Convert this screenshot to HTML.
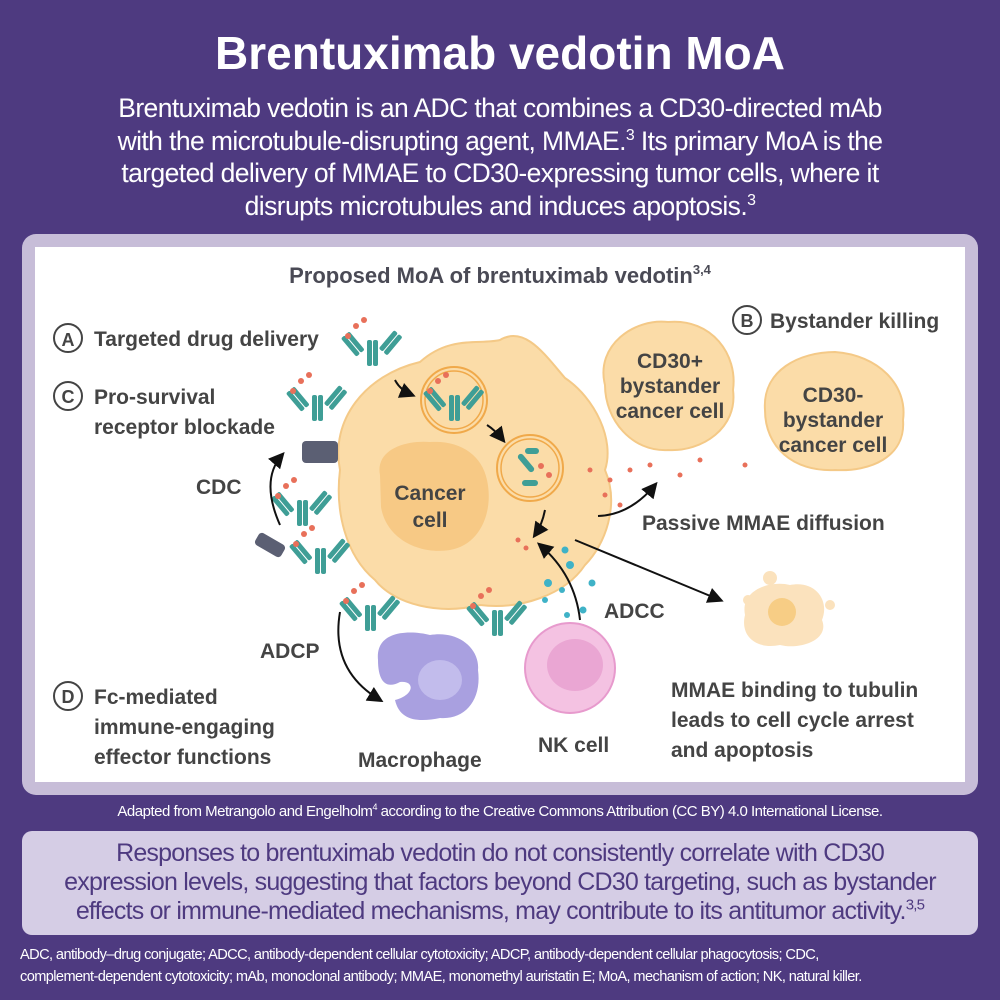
<!DOCTYPE html>
<html><head><meta charset="utf-8"><style>
*{margin:0;padding:0;box-sizing:border-box}
body{width:1000px;height:1000px;background:#4e3a80;font-family:"Liberation Sans",sans-serif;position:relative;overflow:hidden;color:#fff}
.t{position:absolute;left:0;width:1000px;text-align:center}
h1{font-weight:bold;font-size:46px}
.intro{top:92px;font-size:26.5px;line-height:32.5px;letter-spacing:-0.6px}
.panel{position:absolute;left:22px;top:234px;width:956px;height:561px;background:#c7bdd8;border-radius:14px}
.inner{position:absolute;left:13px;top:13px;width:930px;height:535px;background:#fff}
.credit{top:803px;font-size:15px;letter-spacing:-0.5px}
.box{position:absolute;left:22px;top:831px;width:956px;height:104px;background:#d5cde5;border-radius:10px;color:#4e3a80;font-size:25px;line-height:29px;text-align:center;padding-top:8px;letter-spacing:-0.8px}
.foot{position:absolute;left:20px;top:944px;font-size:14.6px;line-height:22px;letter-spacing:-0.6px}
sup{font-size:60%;line-height:0}
</style></head><body>
<div class="t" style="top:26px"><h1>Brentuximab vedotin MoA</h1></div>
<div class="t intro">Brentuximab vedotin is an ADC that combines a CD30-directed mAb<br>with the microtubule-disrupting agent, MMAE.<sup>3</sup> Its primary MoA is the<br>targeted delivery of MMAE to CD30-expressing tumor cells, where it<br>disrupts microtubules and induces apoptosis.<sup>3</sup></div>
<div class="panel"><div class="inner"></div></div>
<svg style="position:absolute;left:0;top:0" width="1000" height="1000" font-family="Liberation Sans, sans-serif" fill="#464650">
<defs>
<g id="ab">
<rect x="-3" y="0" width="5" height="26" rx="2" fill="#3f9e96"/><rect x="3" y="0" width="5" height="26" rx="2" fill="#3f9e96"/>
<rect x="-22" y="-18" width="5" height="24" rx="2" fill="#3f9e96" transform="rotate(-40 -3 0)"/><rect x="-16" y="-18" width="5" height="24" rx="2" fill="#3f9e96" transform="rotate(-40 -3 0)"/>
<rect x="14" y="-18" width="5" height="24" rx="2" fill="#3f9e96" transform="rotate(40 8 0)"/><rect x="20" y="-18" width="5" height="24" rx="2" fill="#3f9e96" transform="rotate(40 8 0)"/>
<circle cx="-14" cy="-14" r="3" fill="#e8705a"/><circle cx="-6" cy="-20" r="3" fill="#e8705a"/><circle cx="-22" cy="-4" r="3" fill="#e8705a"/>
</g>
<marker id="ar" markerWidth="8" markerHeight="8" refX="6" refY="4" orient="auto"><path d="M0,0L8,4L0,8z" fill="#111"/></marker>
</defs>
<text x="500" y="283" text-anchor="middle" font-size="22" font-weight="bold" fill="#4a4a55">Proposed MoA of brentuximab vedotin<tspan font-size="13" dy="-9">3,4</tspan></text>
<path d="M340,470 C330,420 365,375 420,362 C450,335 480,345 500,340 C525,325 545,355 565,378 C595,398 615,440 605,470 C620,505 605,545 585,565 C565,595 520,610 480,605 C440,615 395,605 375,580 C345,555 335,510 340,470Z" fill="#fbdca8" stroke="#f4c987" stroke-width="2"/>
<path d="M380,475 C375,450 405,440 430,442 C460,440 482,455 487,480 C494,512 480,545 450,550 C418,555 386,538 381,507Z" fill="#f7c985"/>
<text x="430" y="500" text-anchor="middle" font-size="21" font-weight="bold" fill="#444">Cancer</text>
<text x="430" y="527" text-anchor="middle" font-size="21" font-weight="bold" fill="#444">cell</text>
<circle cx="454" cy="400" r="33" fill="none" stroke="#f0a94a" stroke-width="2"/><circle cx="454" cy="400" r="29" fill="none" stroke="#f0a94a" stroke-width="1.5"/>
<use href="#ab" x="452" y="395"/>
<circle cx="530" cy="468" r="33" fill="none" stroke="#f0a94a" stroke-width="2"/><circle cx="530" cy="468" r="29" fill="none" stroke="#f0a94a" stroke-width="1.5"/>
<rect x="515" y="460" width="22" height="6" rx="3" fill="#3f9e96" transform="rotate(50 526 463)"/><rect x="525" y="448" width="14" height="6" rx="3" fill="#3f9e96"/><rect x="522" y="480" width="16" height="6" rx="3" fill="#3f9e96"/>
<circle cx="541" cy="466" r="3" fill="#e8705a"/><circle cx="549" cy="475" r="3" fill="#e8705a"/>
<use href="#ab" x="370" y="340"/><use href="#ab" x="315" y="395"/><use href="#ab" x="300" y="500"/><use href="#ab" x="318" y="548"/><use href="#ab" x="368" y="605"/><use href="#ab" x="495" y="610"/>
<rect x="302" y="441" width="36" height="22" rx="4" fill="#5b5f73"/>
<rect x="255" y="538" width="30" height="14" rx="4" fill="#5b5f73" transform="rotate(30 270 545)"/>
<path d="M395,380 Q400,390 412,395" fill="none" stroke="#111" stroke-width="2" marker-end="url(#ar)"/>
<path d="M487,425 Q495,430 503,440" fill="none" stroke="#111" stroke-width="2" marker-end="url(#ar)"/>
<path d="M545,510 Q542,525 535,535" fill="none" stroke="#111" stroke-width="2" marker-end="url(#ar)"/>
<path d="M280,525 Q260,480 282,455" fill="none" stroke="#111" stroke-width="2" marker-end="url(#ar)"/>
<path d="M340,612 Q330,670 380,700" fill="none" stroke="#111" stroke-width="2" marker-end="url(#ar)"/>
<path d="M580,620 Q575,575 540,545" fill="none" stroke="#111" stroke-width="2" marker-end="url(#ar)"/>
<path d="M575,540 L720,600" fill="none" stroke="#111" stroke-width="2" marker-end="url(#ar)"/>
<path d="M598,516 Q630,515 655,485" fill="none" stroke="#111" stroke-width="2" marker-end="url(#ar)"/>
<g fill="#e8705a"><circle cx="590" cy="470" r="2.5"/><circle cx="610" cy="480" r="2.5"/><circle cx="605" cy="495" r="2.5"/><circle cx="630" cy="470" r="2.5"/><circle cx="650" cy="465" r="2.5"/><circle cx="680" cy="475" r="2.5"/><circle cx="700" cy="460" r="2.5"/><circle cx="745" cy="465" r="2.5"/><circle cx="620" cy="505" r="2.5"/><circle cx="518" cy="540" r="2.5"/><circle cx="526" cy="548" r="2.5"/></g>
<g fill="#3fb2c7"><circle cx="565" cy="550" r="3.5"/><circle cx="570" cy="565" r="4"/><circle cx="548" cy="583" r="4"/><circle cx="562" cy="590" r="3"/><circle cx="545" cy="600" r="3"/><circle cx="592" cy="583" r="3.5"/><circle cx="583" cy="610" r="3.5"/><circle cx="567" cy="615" r="3"/></g>
<path d="M605,385 C595,345 635,318 668,322 C712,318 738,355 733,390 C738,428 702,452 668,450 C632,452 605,420 605,385Z" fill="#fbdca8" stroke="#f4c987" stroke-width="2"/>
<g font-weight="bold" font-size="21" fill="#444" text-anchor="middle">
<text x="670" y="368">CD30+</text><text x="670" y="393">bystander</text><text x="670" y="418">cancer cell</text>
</g>
<path d="M765,410 C762,370 800,352 835,352 C878,355 908,385 903,420 C906,457 870,472 835,470 C793,472 765,447 765,410Z" fill="#fbdca8" stroke="#f4c987" stroke-width="2"/>
<g font-weight="bold" font-size="21" fill="#444" text-anchor="middle">
<text x="833" y="402">CD30-</text><text x="833" y="427">bystander</text><text x="833" y="452">cancer cell</text>
</g>
<path d="M745,615 C740,590 770,580 790,585 C815,580 830,600 822,620 C830,640 800,650 780,645 C755,650 740,635 745,615Z" fill="#fbe2bd"/>
<circle cx="782" cy="612" r="14" fill="#f7cd85"/><circle cx="748" cy="600" r="5" fill="#fbe2bd"/><circle cx="830" cy="605" r="5" fill="#fbe2bd"/><circle cx="770" cy="578" r="7" fill="#fbe2bd"/>
<path d="M378,660 C375,630 410,630 430,635 C460,630 480,650 478,670 C482,700 465,720 440,718 C420,722 400,722 395,700 C415,695 415,680 400,682 C385,690 378,680 378,660Z" fill="#a9a0e0"/>
<ellipse cx="440" cy="680" rx="22" ry="20" fill="#c2bcec"/>
<circle cx="570" cy="668" r="45" fill="#f4c2e2" stroke="#e79acd" stroke-width="2"/><ellipse cx="575" cy="665" rx="28" ry="26" fill="#eaa6d3"/>
<g font-size="21" font-weight="bold" fill="#444">
<circle cx="68" cy="338" r="14" fill="none" stroke="#444" stroke-width="2"/><text x="68" y="346" text-anchor="middle" font-size="18">A</text>
<text x="94" y="346">Targeted drug delivery</text>
<circle cx="68" cy="396" r="14" fill="none" stroke="#444" stroke-width="2"/><text x="68" y="403" text-anchor="middle" font-size="18">C</text>
<text x="94" y="404">Pro-survival</text><text x="94" y="434">receptor blockade</text>
<text x="196" y="494">CDC</text>
<circle cx="747" cy="320" r="14" fill="none" stroke="#444" stroke-width="2"/><text x="747" y="327" text-anchor="middle" font-size="18">B</text>
<text x="770" y="328">Bystander killing</text>
<text x="642" y="530">Passive MMAE diffusion</text>
<text x="604" y="618">ADCC</text>
<text x="260" y="658">ADCP</text>
<circle cx="68" cy="696" r="14" fill="none" stroke="#444" stroke-width="2"/><text x="68" y="703" text-anchor="middle" font-size="18">D</text>
<text x="94" y="704">Fc-mediated</text><text x="94" y="734">immune-engaging</text><text x="94" y="764">effector functions</text>
<text x="358" y="767">Macrophage</text>
<text x="538" y="752">NK cell</text>
<text x="671" y="697">MMAE binding to tubulin</text><text x="671" y="727">leads to cell cycle arrest</text><text x="671" y="757">and apoptosis</text>
</g>
</svg>
<div class="t credit">Adapted from Metrangolo and Engelholm<sup>4</sup> according to the Creative Commons Attribution (CC BY) 4.0 International License.</div>
<div class="box">Responses to brentuximab vedotin do not consistently correlate with CD30<br>expression levels, suggesting that factors beyond CD30 targeting, such as bystander<br>effects or immune-mediated mechanisms, may contribute to its antitumor activity.<sup>3,5</sup></div>
<div class="foot">ADC, antibody–drug conjugate; ADCC, antibody-dependent cellular cytotoxicity; ADCP, antibody-dependent cellular phagocytosis; CDC,<br>complement-dependent cytotoxicity; mAb, monoclonal antibody; MMAE, monomethyl auristatin E; MoA, mechanism of action; NK, natural killer.</div>
</body></html>
